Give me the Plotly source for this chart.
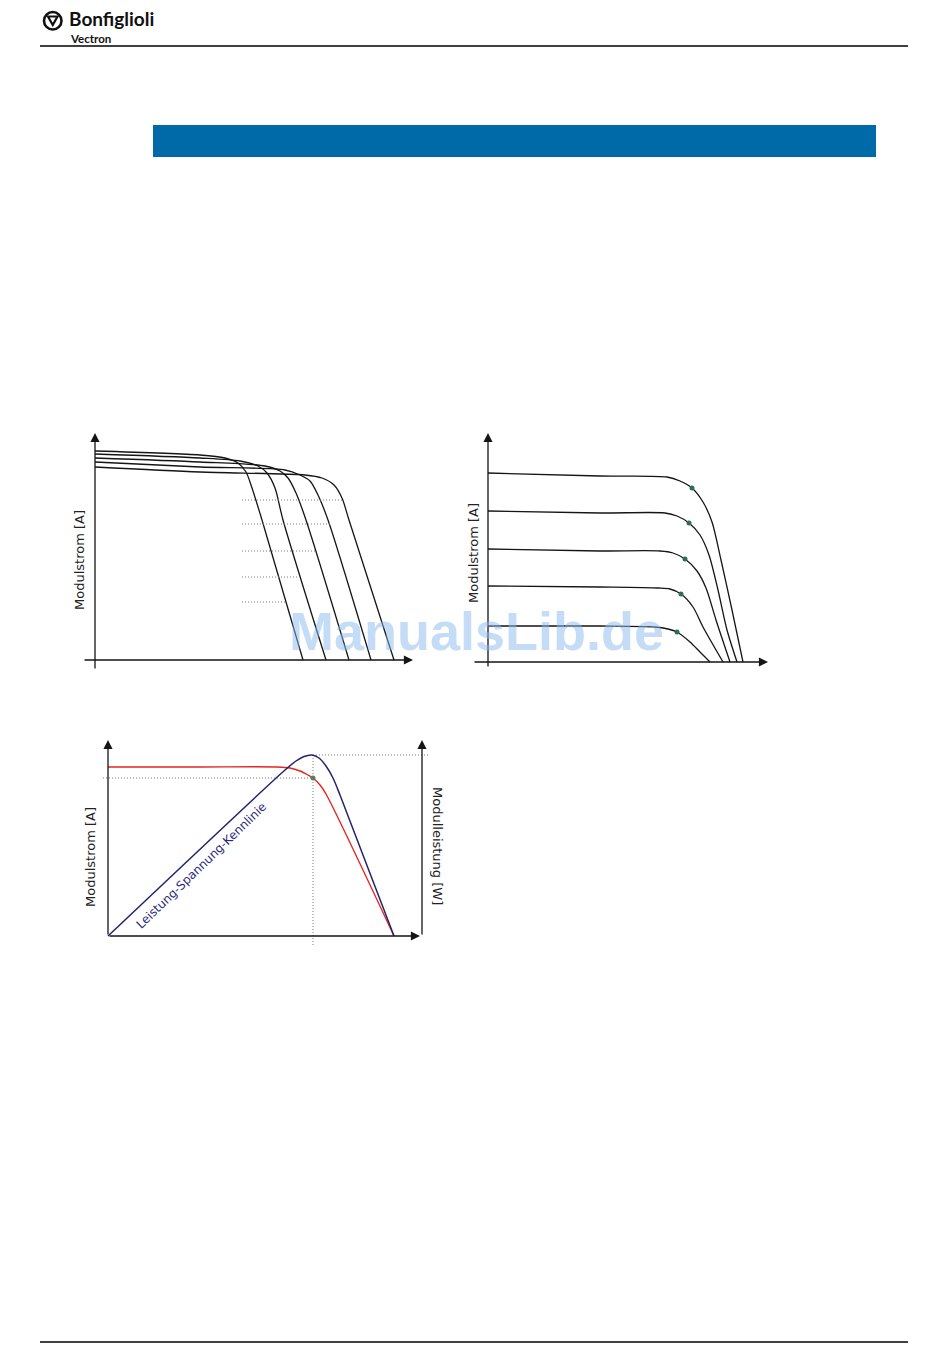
import plotly.graph_objects as go

W, H = 950, 1369

# ---------------- DATA (relative units) ----------------
# Chart 1: module current vs. voltage for different cell temperatures
c1_v_a = [0, 10.5, 13.0, 14.3, 15.1, 15.7, 16.7, 20.8]
c1_i_a = [20.9, 20.5, 20.2, 19.7, 18.8, 17.2, 14.0, 0]
c1_v_b = [0, 10.5, 14.5, 16.3, 17.2, 18.0, 18.8, 23.1]
c1_i_b = [20.6, 20.2, 19.9, 19.4, 18.7, 17.2, 14.0, 0]
c1_v_c = [0, 10.5, 17.0, 18.5, 19.3, 20.1, 21.1, 25.4]
c1_i_c = [20.2, 19.8, 19.4, 18.9, 18.2, 16.7, 14.0, 0]
c1_v_d = [0, 10.5, 19.0, 20.5, 21.5, 22.3, 23.3, 27.6]
c1_i_d = [19.8, 19.3, 19.0, 18.5, 17.9, 16.5, 14.0, 0]
c1_v_e = [0, 10.5, 21.0, 22.7, 23.9, 24.7, 25.4, 29.9]
c1_i_e = [19.3, 18.8, 18.5, 18.2, 17.5, 16.2, 14.0, 0]
c1_ref_i = [16.0, 13.6, 10.9, 8.3, 5.8]
c1_ref_v_start = [14.7, 14.7, 14.7, 14.7, 14.7]
c1_ref_v_end = [24.8, 23.5, 22.1, 20.3, 19.0]

# Chart 2: module current vs. voltage for different irradiances
c2_v_1 = [0, 11.2, 17.9, 19.2, 20.4, 21.5, 22.4, 23.3, 24.4, 25.5]
c2_i_1 = [18.9, 18.6, 18.5, 18.1, 17.4, 16.0, 14.0, 10.2, 5.2, 0]
c2_v_2 = [0, 11.2, 17.7, 18.9, 20.1, 21.2, 22.1, 23.0, 23.9, 24.9]
c2_i_2 = [15.1, 14.9, 14.9, 14.6, 13.9, 12.7, 10.7, 7.2, 3.2, 0]
c2_v_3 = [0, 11.2, 17.2, 18.5, 19.7, 20.9, 21.8, 22.8, 24.2]
c2_i_3 = [11.3, 11.1, 11.1, 10.9, 10.3, 9.1, 7.4, 4.2, 0]
c2_v_4 = [0, 11.2, 17.0, 18.2, 19.3, 20.5, 21.5, 23.5]
c2_i_4 = [7.6, 7.5, 7.4, 7.3, 6.8, 5.5, 3.5, 0]
c2_v_5 = [0, 11.2, 16.7, 18.0, 18.9, 20.2, 21.2, 22.2]
c2_i_5 = [3.6, 3.6, 3.5, 3.3, 3.0, 2.0, 1.0, 0]
c2_mpp_v = [20.4, 20.1, 19.7, 19.3, 18.9]
c2_mpp_i = [17.4, 13.9, 10.3, 6.8, 3.0]

# Chart 3: current-voltage and power-voltage characteristic
c3_v = [0, 9.2, 16.9, 18.2, 19.2, 20.0, 20.5, 21.2, 21.8, 28.6]
c3_i = [16.9, 16.9, 16.9, 16.8, 16.5, 16.1, 15.8, 15.1, 14.2, 0]
c3_pv = [0, 17.7, 18.8, 19.6, 20.4, 21.1, 21.8, 22.5, 23.2, 28.6]
c3_p = [0, 16.6, 17.5, 17.95, 18.1, 17.8, 17.0, 15.8, 14.1, 0]
c3_mpp_v = 20.5
c3_mpp_i = 15.8
c3_mpp_p = 18.1

# ---------------- helpers for layout positions ----------------
def fx(px):
    return px / W

def fy(py):
    return 1 - py / H

BLACK = "#151515"
GRAY = "#7a7a7a"
TXT = "#222222"
DOT = "1px,2px"

fig = go.Figure()

# Chart 1 curves
for v, i in [(c1_v_a, c1_i_a), (c1_v_b, c1_i_b), (c1_v_c, c1_i_c),
             (c1_v_d, c1_i_d), (c1_v_e, c1_i_e)]:
    fig.add_trace(go.Scatter(x=v, y=i, mode="lines", xaxis="x", yaxis="y",
                             line=dict(color=BLACK, width=1.3, shape="spline", smoothing=0.8),
                             hoverinfo="skip", showlegend=False))
dx, dy = [], []
for i0, vs, ve in zip(c1_ref_i, c1_ref_v_start, c1_ref_v_end):
    dx += [vs, ve, None]
    dy += [i0, i0, None]
fig.add_trace(go.Scatter(x=dx, y=dy, mode="lines", xaxis="x", yaxis="y",
                         line=dict(color=GRAY, width=1, dash=DOT),
                         hoverinfo="skip", showlegend=False))

# Chart 2 curves
for v, i in [(c2_v_1, c2_i_1), (c2_v_2, c2_i_2), (c2_v_3, c2_i_3),
             (c2_v_4, c2_i_4), (c2_v_5, c2_i_5)]:
    fig.add_trace(go.Scatter(x=v, y=i, mode="lines", xaxis="x2", yaxis="y2",
                             line=dict(color=BLACK, width=1.3, shape="spline", smoothing=0.8),
                             hoverinfo="skip", showlegend=False))
fig.add_trace(go.Scatter(x=c2_mpp_v, y=c2_mpp_i, mode="markers", xaxis="x2", yaxis="y2",
                         marker=dict(color="#2f6e55", size=5),
                         hoverinfo="skip", showlegend=False))

# Chart 3 dotted guides
fig.add_trace(go.Scatter(x=[-0.5, c3_mpp_v], y=[c3_mpp_i, c3_mpp_i], mode="lines",
                         xaxis="x3", yaxis="y3",
                         line=dict(color=GRAY, width=1, dash=DOT),
                         hoverinfo="skip", showlegend=False))
fig.add_trace(go.Scatter(x=[c3_mpp_v, c3_mpp_v], y=[-0.9, c3_mpp_p], mode="lines",
                         xaxis="x3", yaxis="y3",
                         line=dict(color=GRAY, width=1, dash=DOT),
                         hoverinfo="skip", showlegend=False))
fig.add_trace(go.Scatter(x=[c3_mpp_v, 32.0], y=[c3_mpp_p, c3_mpp_p], mode="lines",
                         xaxis="x3", yaxis="y4",
                         line=dict(color=GRAY, width=1, dash=DOT),
                         hoverinfo="skip", showlegend=False))
# Chart 3 curves
fig.add_trace(go.Scatter(x=c3_v, y=c3_i, mode="lines", xaxis="x3", yaxis="y3",
                         line=dict(color="#e3261f", width=1.4, shape="spline", smoothing=0.8),
                         hoverinfo="skip", showlegend=False))
fig.add_trace(go.Scatter(x=c3_pv, y=c3_p, mode="lines", xaxis="x3", yaxis="y4",
                         line=dict(color="#24246e", width=1.5, shape="spline", smoothing=0.8),
                         hoverinfo="skip", showlegend=False))
fig.add_trace(go.Scatter(x=[c3_mpp_v], y=[c3_mpp_i], mode="markers", xaxis="x3", yaxis="y3",
                         marker=dict(color="#5a7d68", size=5),
                         hoverinfo="skip", showlegend=False))

# ---------------- axes ----------------
hid = dict(visible=False, showgrid=False, zeroline=False, fixedrange=True)
fig.update_layout(
    xaxis=dict(domain=[fx(83), fx(420)], range=[-1.2, 32.5], anchor="y", **hid),
    yaxis=dict(domain=[fy(672), fy(428)], range=[-1.2, 23.2], anchor="x", **hid),
    xaxis2=dict(domain=[fx(470), fx(775)], range=[-1.8, 28.7], anchor="y2", **hid),
    yaxis2=dict(domain=[fy(672), fy(428)], range=[-1.0, 23.4], anchor="x2", **hid),
    xaxis3=dict(domain=[fx(95), fx(440)], range=[-1.3, 33.2], anchor="y3", **hid),
    yaxis3=dict(domain=[fy(950), fy(735)], range=[-1.4, 20.1], anchor="x3", **hid),
    yaxis4=dict(domain=[fy(950), fy(735)], range=[-1.4, 20.1], anchor="x3",
                overlaying="y3", side="right", **hid),
)

annotations = []

def arrow(xref, yref, tail, head):
    annotations.append(dict(xref=xref, yref=yref, axref=xref, ayref=yref,
                            x=head[0], y=head[1], ax=tail[0], ay=tail[1],
                            text="", showarrow=True, arrowhead=2, arrowsize=1.4,
                            arrowwidth=1.3, arrowcolor=BLACK, standoff=0))

# chart 1 axes
arrow("x", "y", (0, -1.0), (0, 22.7))
arrow("x", "y", (-1.2, 0), (31.8, 0))
# chart 2 axes
arrow("x2", "y2", (0, -0.6), (0, 22.9))
arrow("x2", "y2", (-1.5, 0), (28.0, 0))
# chart 3 axes
arrow("x3", "y3", (0, 0), (0, 19.6))
arrow("x3", "y3", (0, 0), (31.2, 0))
arrow("x3", "y4", (31.4, 0), (31.4, 19.6))

lab = dict(family="DejaVu Sans, Verdana, sans-serif", size=13, color=TXT)
annotations += [
    dict(xref="paper", yref="paper", x=fx(80), y=fy(560), text="Modulstrom [A]",
         textangle=-90, showarrow=False, font=lab, xanchor="center", yanchor="middle"),
    dict(xref="paper", yref="paper", x=fx(473), y=fy(553), text="Modulstrom [A]",
         textangle=-90, showarrow=False, font=lab, xanchor="center", yanchor="middle"),
    dict(xref="paper", yref="paper", x=fx(90), y=fy(857), text="Modulstrom [A]",
         textangle=-90, showarrow=False, font=lab, xanchor="center", yanchor="middle"),
    dict(xref="paper", yref="paper", x=fx(438), y=fy(846), text="Modulleistung [W]",
         textangle=90, showarrow=False, font=lab, xanchor="center", yanchor="middle"),
    dict(xref="paper", yref="paper", x=fx(201), y=fy(866), text="Leistung-Spannung-Kennlinie",
         textangle=-44, showarrow=False,
         font=dict(family="DejaVu Sans, Verdana, sans-serif", size=12, color="#2a2a7c"),
         xanchor="center", yanchor="middle"),
    # header logo texts
    dict(xref="paper", yref="paper", x=fx(67), y=fy(19), text="<b>Bonfiglioli</b>",
         showarrow=False, font=dict(family="Lato, sans-serif", size=19, color="#111"),
         xanchor="left", yanchor="middle"),
    dict(xref="paper", yref="paper", x=fx(68), y=fy(38.5), text="<b>Vectron</b>",
         showarrow=False, font=dict(family="Lato, sans-serif", size=11.5, color="#111"),
         xanchor="left", yanchor="middle"),
    # watermark
    dict(xref="paper", yref="paper", x=fx(476), y=fy(631), text="<b>ManualsLib.de</b>",
         showarrow=False,
         font=dict(family="Liberation Sans, Arial, sans-serif",
                   size=54, color="rgba(140,185,240,0.5)"),
         xanchor="center", yanchor="middle"),
]

shapes = [
    # header rule
    dict(type="line", xref="paper", yref="paper", x0=fx(40), x1=fx(908), y0=fy(46), y1=fy(46),
         line=dict(color="#000", width=1.4)),
    # blue title bar
    dict(type="rect", xref="paper", yref="paper", x0=fx(153), x1=fx(876), y0=fy(157), y1=fy(125),
         fillcolor="#0069a8", line=dict(width=0)),
    # footer rule
    dict(type="line", xref="paper", yref="paper", x0=fx(40), x1=fx(908), y0=fy(1342), y1=fy(1342),
         line=dict(color="#000", width=1.4)),
    # logo ring
    dict(type="circle", xref="paper", yref="paper", x0=fx(44), x1=fx(61.5), y0=fy(29.5), y1=fy(12),
         line=dict(color="#111", width=2.6)),
    # logo triangle
    dict(type="path", xref="paper", yref="paper",
         path=f"M {fx(48)},{fy(16.5)} L {fx(57.5)},{fy(16.5)} L {fx(52.75)},{fy(25)} Z",
         line=dict(color="#111", width=2.2)),
]

fig.update_layout(
    width=W, height=H, margin=dict(l=0, r=0, t=0, b=0),
    paper_bgcolor="white", plot_bgcolor="rgba(0,0,0,0)",
    showlegend=False, annotations=annotations, shapes=shapes,
)

fig.write_html("out.html", config={"displayModeBar": False, "staticPlot": True},
               post_script="document.body.style.margin='0';document.body.style.padding='0';")
